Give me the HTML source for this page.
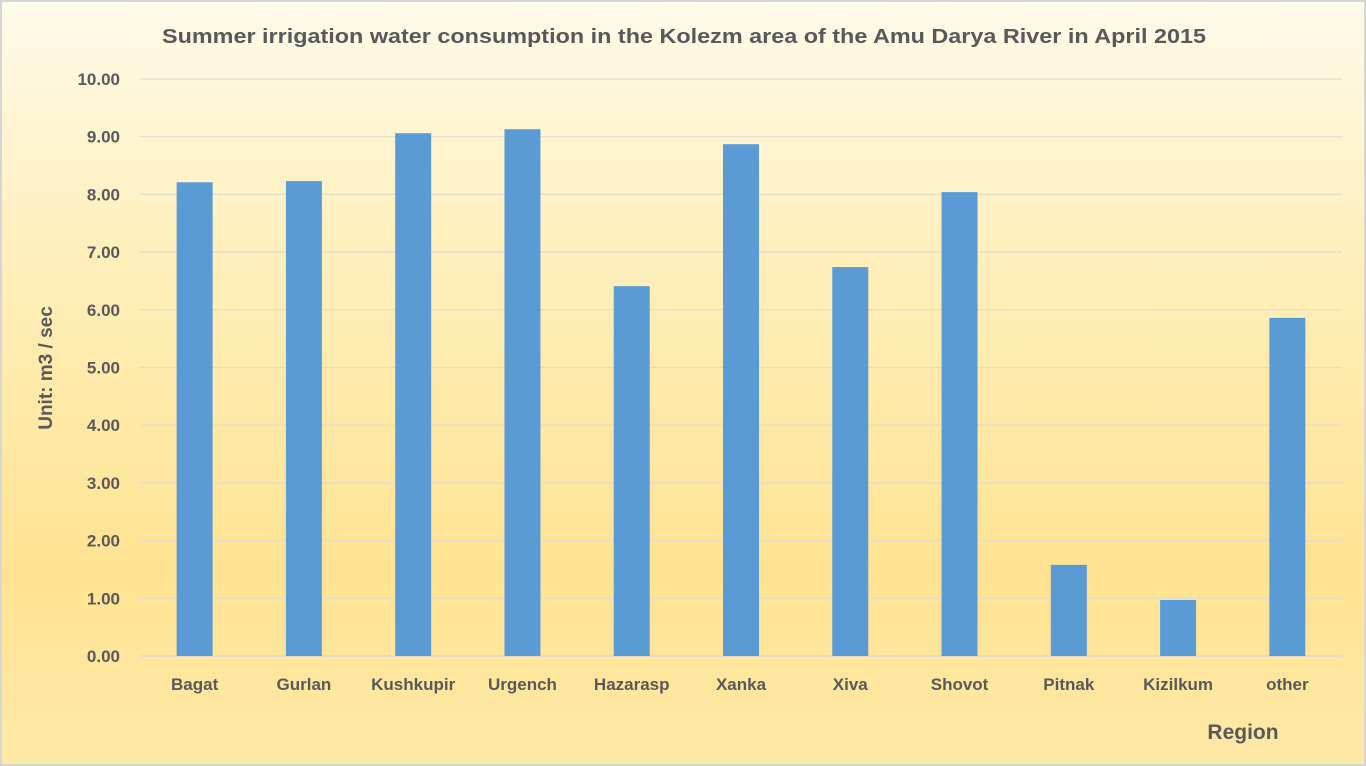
<!DOCTYPE html>
<html><head><meta charset="utf-8"><style>
html,body{margin:0;padding:0;width:1366px;height:766px;overflow:hidden}
#chart{position:absolute;left:0;top:0;width:1366px;height:766px;box-sizing:border-box;border:2px solid #d6d6d6;
background:linear-gradient(180deg,#fffbeb 0%,#fff0bf 30%,#ffe392 75%,#ffe9a8 100%);font-family:"Liberation Sans",sans-serif}
#svg{position:absolute;left:-2px;top:-2px}
text{font-family:"Liberation Sans",sans-serif;font-weight:bold;fill:#595959}
</style></head><body>
<div id="chart">
<svg id="svg" width="1366" height="766">
<text x="162" y="43" font-size="20" textLength="1044" lengthAdjust="spacingAndGlyphs">Summer irrigation water consumption in the Kolezm area of the Amu Darya River in April 2015</text>
<text transform="translate(52,368) rotate(-90)" text-anchor="middle" font-size="19">Unit:  m3 / sec</text>
<text x="1243" y="739" text-anchor="middle" font-size="21">Region</text>
<g id="grid"></g><g id="bars"></g><g id="labels"></g>
</svg></div>
<script>
const categories=["Bagat","Gurlan","Kushkupir","Urgench","Hazarasp","Xanka","Xiva","Shovot","Pitnak","Kizilkum","other"];
const values=[8.21,8.23,9.06,9.13,6.41,8.87,6.74,8.04,1.58,0.97,5.86];
const ticks=[0,1,2,3,4,5,6,7,8,9,10];
const NS="http://www.w3.org/2000/svg";
const x0=140,x1=1342,y0=656,y1=79;
const band=(x1-x0)/categories.length;
const y=v=>y0-(v/10)*(y0-y1);
const xc=i=>x0+band*(i+0.5);
function mk(t,a,p){const e=document.createElementNS(NS,t);for(const k in a)e.setAttribute(k,a[k]);document.getElementById(p).appendChild(e);return e;}
ticks.forEach(t=>{
 const l=mk('line',{x1:x0,x2:x1,y1:y(t),y2:y(t),stroke:t===0?'#d9d9d9':'#e3dccb','stroke-width':t===0?1.5:1.2},'grid');
 
 
 const tx=mk('text',{x:120,y:y(t)+6,'text-anchor':'end','font-size':17},'labels');
 tx.textContent=t.toFixed(2);
 
 
});
categories.forEach((c,i)=>{
 const r=mk('rect',{x:xc(i)-18,y:y(values[i]),width:36,height:y0-y(values[i]),fill:'#5b9bd5'},'bars');
 
 
 const tx=mk('text',{x:xc(i),y:690,'text-anchor':'middle','font-size':17},'labels');
 tx.textContent=c;
 
 
});
</script>
</body></html>
